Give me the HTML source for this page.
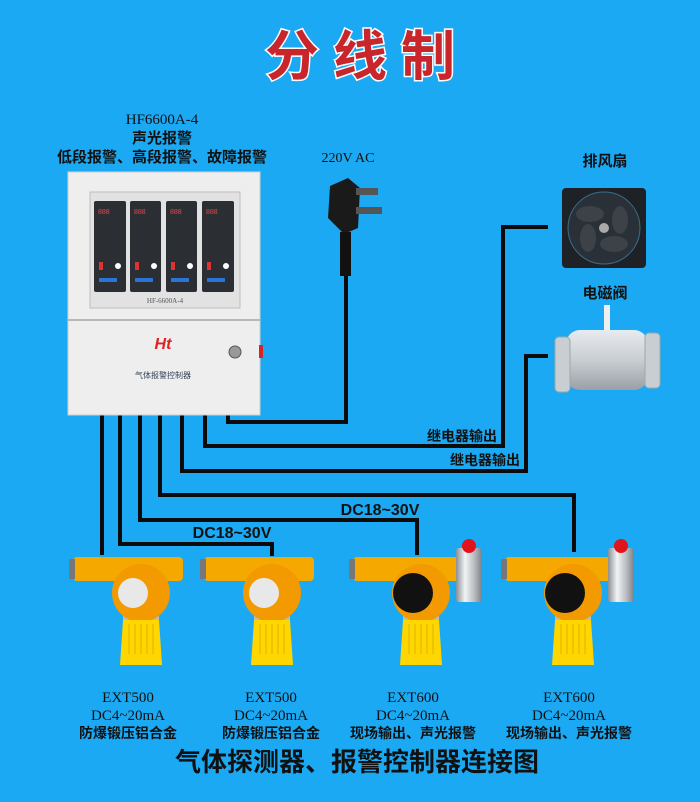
<!DOCTYPE html>
<html><head><meta charset="utf-8"><style>
html,body{margin:0;padding:0;background:#1ba9f3;}
svg{display:block}
text{font-family:"Liberation Sans","Noto Sans CJK SC",sans-serif;}
svg text.serif, svg .serif text{font-family:"Liberation Serif","Noto Serif CJK SC",serif;}
</style></head><body>
<svg width="700" height="802" viewBox="0 0 700 802" xmlns="http://www.w3.org/2000/svg">
<defs>
<linearGradient id="silver" x1="0" x2="1"><stop offset="0" stop-color="#8a8f94"/><stop offset=".35" stop-color="#f2f4f5"/><stop offset=".7" stop-color="#b9bdc1"/><stop offset="1" stop-color="#7d8286"/></linearGradient>
<linearGradient id="valve" x1="0" y1="0" x2="0" y2="1"><stop offset="0" stop-color="#e8ebee"/><stop offset=".5" stop-color="#c9ced3"/><stop offset="1" stop-color="#9aa0a6"/></linearGradient>
<g id="det">
 <rect x="-60" y="-1" width="110" height="24" rx="4" fill="#f5a800"/>
 <rect x="-64" y="1" width="6" height="20" fill="#777"/>
 <rect x="-8" y="22" width="32" height="40" fill="#ef9d00"/>
 <rect x="-10" y="56" width="36" height="6" fill="#bbb"/>
 <circle cx="8" cy="35" r="29" fill="#f29a00"/>
 <path d="M-10 62 h36 l3 45 h-42z" fill="#ffd600"/>
 <g stroke="#e4b800" stroke-width="1.2"><line x1="-4" y1="66" x2="-4" y2="96"/><line x1="2" y1="66" x2="2" y2="96"/><line x1="8" y1="66" x2="8" y2="96"/><line x1="14" y1="66" x2="14" y2="96"/><line x1="20" y1="66" x2="20" y2="96"/></g>
</g>
</defs>
<rect width="700" height="802" fill="#1ba9f3"/>

<text x="367" y="75" text-anchor="middle" font-size="54" font-weight="bold" fill="#c8262a" stroke="#fff" stroke-width="3" paint-order="stroke" letter-spacing="14">分线制</text>

<text class="serif" x="162" y="124" text-anchor="middle" font-size="15" fill="#111">HF6600A-4</text>
<text x="162" y="143" text-anchor="middle" font-size="15" font-weight="bold" fill="#111">声光报警</text>
<text x="162" y="162" text-anchor="middle" font-size="15" font-weight="bold" fill="#111">低段报警、高段报警、故障报警</text>
<text class="serif" x="348" y="162" text-anchor="middle" font-size="14" fill="#111">220V AC</text>
<text x="605" y="166" text-anchor="middle" font-size="15" font-weight="bold" fill="#111">排风扇</text>
<text x="605" y="298" text-anchor="middle" font-size="15" font-weight="bold" fill="#111">电磁阀</text>

<g fill="none" stroke="#0b0b0b" stroke-width="4">
 <polyline points="228,412 228,422 346,422 346,275"/>
 <polyline points="102,412 102,555"/>
 <polyline points="120,412 120,544 272,544 272,556"/>
 <polyline points="140,412 140,520 417,520 417,555"/>
 <polyline points="160,412 160,495 574,495 574,552"/>
 <polyline points="182,412 182,471 526,471 526,356 548,356"/>
 <polyline points="205,412 205,446 503,446 503,227 548,227"/>
</g>
<text x="497" y="441" text-anchor="end" font-size="14" font-weight="bold" fill="#111">继电器输出</text>
<text x="520" y="465" text-anchor="end" font-size="14" font-weight="bold" fill="#111">继电器输出</text>
<text x="380" y="515" text-anchor="middle" font-size="16" font-weight="bold" fill="#111">DC18~30V</text>
<text x="232" y="538" text-anchor="middle" font-size="16" font-weight="bold" fill="#111">DC18~30V</text>

<rect x="68" y="172" width="192" height="243" fill="#eeeeee" stroke="#cfcfcf"/>
<rect x="90" y="192" width="150" height="116" fill="#e2e2e2" stroke="#bdbdbd"/>
<g fill="#2b2f33">
 <rect x="94" y="201" width="32" height="91" rx="2"/><rect x="130" y="201" width="31" height="91" rx="2"/>
 <rect x="166" y="201" width="31" height="91" rx="2"/><rect x="202" y="201" width="32" height="91" rx="2"/>
</g>
<g font-size="7" fill="#e0484c" font-family="Liberation Mono,monospace">
 <text x="98" y="214">888</text><text x="134" y="214">888</text><text x="170" y="214">888</text><text x="206" y="214">888</text>
</g>
<g fill="#fff"><circle cx="118" cy="266" r="3"/><circle cx="154" cy="266" r="3"/><circle cx="190" cy="266" r="3"/><circle cx="226" cy="266" r="3"/></g>
<g fill="#d33"><rect x="99" y="262" width="4" height="8"/><rect x="135" y="262" width="4" height="8"/><rect x="171" y="262" width="4" height="8"/><rect x="207" y="262" width="4" height="8"/></g>
<g fill="#2a74d8"><rect x="99" y="278" width="18" height="4"/><rect x="135" y="278" width="18" height="4"/><rect x="171" y="278" width="18" height="4"/><rect x="207" y="278" width="18" height="4"/></g>
<text class="serif" x="165" y="303" text-anchor="middle" font-size="7" fill="#555">HF-6600A-4</text>
<line x1="68" y1="320" x2="260" y2="320" stroke="#b8b8b8" stroke-width="2"/>
<text x="163" y="349" text-anchor="middle" font-size="16" font-weight="bold" font-style="italic" fill="#d22">Ht</text>
<circle cx="235" cy="352" r="6" fill="#999" stroke="#555"/>
<rect x="259" y="345" width="4" height="13" fill="#d22"/>
<text x="163" y="378" text-anchor="middle" font-size="8" fill="#345">气体报警控制器</text>

<path d="M330 186 l18 -8 l12 10 l-2 40 l-14 6 l-16 -16z" fill="#1a1a1a"/>
<rect x="356" y="188" width="22" height="7" fill="#555"/><rect x="356" y="207" width="26" height="7" fill="#555"/>
<rect x="340" y="232" width="11" height="44" fill="#111"/>

<rect x="562" y="188" width="84" height="80" rx="4" fill="#1e2227"/>
<circle cx="604" cy="228" r="36" fill="#2a3038" stroke="#3a6d8c"/>
<g fill="#3d4248"><ellipse cx="590" cy="214" rx="14" ry="8"/><ellipse cx="620" cy="220" rx="8" ry="14"/><ellipse cx="614" cy="244" rx="14" ry="8"/><ellipse cx="588" cy="238" rx="8" ry="14"/></g>
<circle cx="604" cy="228" r="5" fill="#aaa"/>

<rect x="604" y="305" width="6" height="28" fill="#eee"/>
<rect x="566" y="330" width="82" height="60" rx="14" fill="url(#valve)"/>
<rect x="555" y="337" width="15" height="55" rx="4" fill="#c9ced3" stroke="#9aa"/>
<rect x="645" y="333" width="15" height="55" rx="4" fill="#c9ced3" stroke="#9aa"/>

<use href="#det" x="133" y="558"/>
<use href="#det" x="264" y="558"/>
<use href="#det" x="413" y="558"/>
<use href="#det" x="565" y="558"/>
<g fill="#e8e8e8"><circle cx="133" cy="593" r="15"/><circle cx="264" cy="593" r="15"/></g>
<g fill="#111"><circle cx="413" cy="593" r="20"/><circle cx="565" cy="593" r="20"/></g>
<g fill="url(#silver)"><rect x="456" y="548" width="26" height="54" rx="3"/><rect x="608" y="548" width="26" height="54" rx="3"/></g>
<g fill="#e1141b"><circle cx="469" cy="546" r="7"/><circle cx="621" cy="546" r="7"/></g>

<g class="serif" font-size="15" fill="#111" text-anchor="middle">
 <text x="128" y="702">EXT500</text><text x="128" y="720">DC4~20mA</text>
 <text x="271" y="702">EXT500</text><text x="271" y="720">DC4~20mA</text>
 <text x="413" y="702">EXT600</text><text x="413" y="720">DC4~20mA</text>
 <text x="569" y="702">EXT600</text><text x="569" y="720">DC4~20mA</text>
</g>
<g font-size="14" font-weight="bold" fill="#111" text-anchor="middle">
 <text x="128" y="738">防爆锻压铝合金</text><text x="271" y="738">防爆锻压铝合金</text>
 <text x="413" y="738">现场输出、声光报警</text><text x="569" y="738">现场输出、声光报警</text>
</g>
<text x="357" y="771" text-anchor="middle" font-size="26" font-weight="bold" fill="#111">气体探测器、报警控制器连接图</text>
</svg>
</body></html>
